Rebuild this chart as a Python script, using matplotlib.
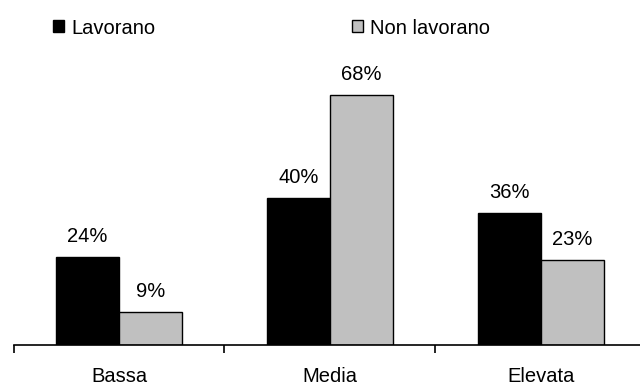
import matplotlib
matplotlib.use("Agg")
import matplotlib.pyplot as plt
import numpy as np

plt.rcParams['font.family'] = ['Liberation Sans', 'DejaVu Sans']

categories = ["Bassa", "Media", "Elevata"]
lavorano = [24, 40, 36]
non_lavorano = [9, 68, 23]
series_names = ["Lavorano", "Non lavorano"]

fig = plt.figure(figsize=(6.4, 3.87), dpi=100)
ax = fig.add_axes([13.5 / 640, 42 / 387, 633 / 640, 294 / 387])

x = np.arange(len(categories))
w = 0.3
b1 = ax.bar(x - w / 2, lavorano, w, color="black", edgecolor="black", linewidth=1.0)
b2 = ax.bar(x + w / 2, non_lavorano, w, color="#C0C0C0", edgecolor="black", linewidth=1.0)

fs = 14.5
for bars, vals in ((b1, lavorano), (b2, non_lavorano)):
    for rect, v in zip(bars, vals):
        ax.annotate(f"{v}%", (rect.get_x() + rect.get_width() / 2, v),
                    xytext=(0, 8), textcoords="offset points",
                    ha="center", va="bottom", fontsize=fs)

ax.set_xlim(-0.5, len(categories) - 0.5)
ax.set_ylim(0, 80)

for s in ("top", "right", "left"):
    ax.spines[s].set_visible(False)
ax.spines["bottom"].set_linewidth(1.2)
ax.set_yticks([])

# group boundaries as major ticks, category names as minor tick labels
ax.set_xticks(np.arange(-0.5, len(categories) + 0.5, 1.0))
ax.set_xticklabels([])
ax.tick_params(axis="x", which="major", direction="out", length=6, width=1.2)
ax.set_xticks(x, minor=True)
ax.set_xticklabels(categories, minor=True, fontsize=fs)
ax.tick_params(axis="x", which="minor", length=0, pad=16)

leg1 = fig.legend([b1], [series_names[0]], loc="center left",
                  bbox_to_anchor=(45 / 640, 1 - 28 / 387), frameon=False,
                  fontsize=fs, handlelength=0.55, handleheight=0.55,
                  handletextpad=0.35, borderaxespad=0)
leg2 = fig.legend([b2], [series_names[1]], loc="center left",
                  bbox_to_anchor=(344 / 640, 1 - 28 / 387), frameon=False,
                  fontsize=fs, handlelength=0.55, handleheight=0.55,
                  handletextpad=0.35, borderaxespad=0)

fig.savefig("out.png", dpi=100)
